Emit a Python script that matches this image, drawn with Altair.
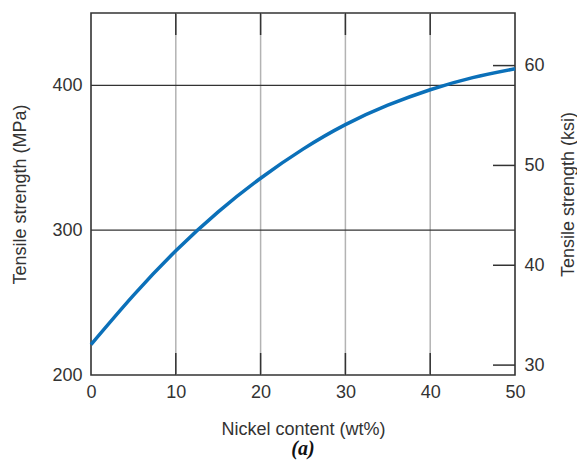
import altair as alt
import pandas as pd

# Curve (wt% Ni -> tensile strength MPa)
nickel = [0, 5, 10, 15, 20, 25, 30, 35, 40, 45, 50]
strength = [221, 255, 285.8, 312.7, 335.9, 356.0, 372.9, 386.3, 397.0, 405.4, 411.5]

x_ticks = [0, 10, 20, 30, 40, 50]
x_grid = [10, 20, 30, 40]
mpa_ticks = [200, 300, 400]
mpa_grid = [300, 400]
ksi_ticks = [30, 40, 50, 60]

MPA_PER_KSI = 6.894757
mpa_domain = [200, 450]
ksi_domain = [mpa_domain[0] / MPA_PER_KSI, mpa_domain[1] / MPA_PER_KSI]

W, H = 424, 362
DARK = "#333333"
FONT = "Liberation Sans"

curve_df = pd.DataFrame({"ni": nickel, "mpa": strength})
xgrid_df = pd.DataFrame({"g": x_grid})
ygrid_df = pd.DataFrame({"m": mpa_grid})
ksi_df = pd.DataFrame({"k": ksi_ticks})

xscale = alt.Scale(domain=[0, 50], nice=False, zero=False)
yscale = alt.Scale(domain=mpa_domain, nice=False, zero=False)
kscale = alt.Scale(domain=ksi_domain, nice=False, zero=False)

x_axis = alt.Axis(values=x_ticks, title="Nickel content (wt%)", grid=False,
                  ticks=False, domain=False, labelPadding=8, titlePadding=19,
                  labelFlush=False)
y_axis = alt.Axis(values=mpa_ticks, title="Tensile strength (MPa)", grid=False,
                  ticks=False, domain=False, labelPadding=9, titlePadding=22,
                  orient="left", labelFlush=False)
k_axis = alt.Axis(values=ksi_ticks, title="Tensile strength (ksi)", grid=False,
                  ticks=False, domain=False, labelPadding=9, titlePadding=33,
                  orient="right", titleAngle=270, labelFlush=False)

vgrid = alt.Chart(xgrid_df).mark_rule(color="#b3b3b3", strokeWidth=1.5).encode(
    x=alt.X("g:Q", scale=xscale, axis=x_axis),
    y=alt.value(0), y2=alt.value(H))
vtick_top = alt.Chart(xgrid_df).mark_rule(color=DARK, strokeWidth=1.5).encode(
    x=alt.X("g:Q", scale=xscale, axis=x_axis),
    y=alt.value(0), y2=alt.value(22))
vtick_bot = alt.Chart(xgrid_df).mark_rule(color=DARK, strokeWidth=1.5).encode(
    x=alt.X("g:Q", scale=xscale, axis=x_axis),
    y=alt.value(H - 22), y2=alt.value(H))
hgrid = alt.Chart(ygrid_df).mark_rule(color=DARK, strokeWidth=1.2).encode(
    y=alt.Y("m:Q", scale=yscale, axis=y_axis),
    x=alt.value(0), x2=alt.value(W))
curve = alt.Chart(curve_df).mark_line(color="#0b70b9", strokeWidth=3.5,
                                      interpolate="natural").encode(
    x=alt.X("ni:Q", scale=xscale, axis=x_axis),
    y=alt.Y("mpa:Q", scale=yscale, axis=y_axis))

main = alt.layer(vgrid, vtick_top, vtick_bot, hgrid, curve)

ksi_ticks_layer = alt.Chart(ksi_df).mark_rule(color=DARK, strokeWidth=1.5).encode(
    y=alt.Y("k:Q", scale=kscale, axis=k_axis),
    x=alt.value(W - 22), x2=alt.value(W))

chart = alt.layer(main, ksi_ticks_layer).resolve_scale(
    y="independent"
).properties(
    width=W, height=H,
    autosize=alt.AutoSizeParams(type="none"),
    padding={"left": 83, "top": 5, "right": 62, "bottom": 87},
    title=alt.TitleParams(text="(a)", orient="bottom", font="Liberation Serif",
                          fontStyle="italic", fontWeight="bold", fontSize=20,
                          color="#111111", offset=1),
).configure_view(
    stroke=DARK, strokeWidth=1.6
).configure_axis(
    labelFont=FONT, titleFont=FONT, labelFontSize=18, titleFontSize=18,
    labelColor=DARK, titleColor=DARK, titleFontWeight="normal"
)

chart.save("out.html", embed_options={"renderer": "svg", "actions": False})
